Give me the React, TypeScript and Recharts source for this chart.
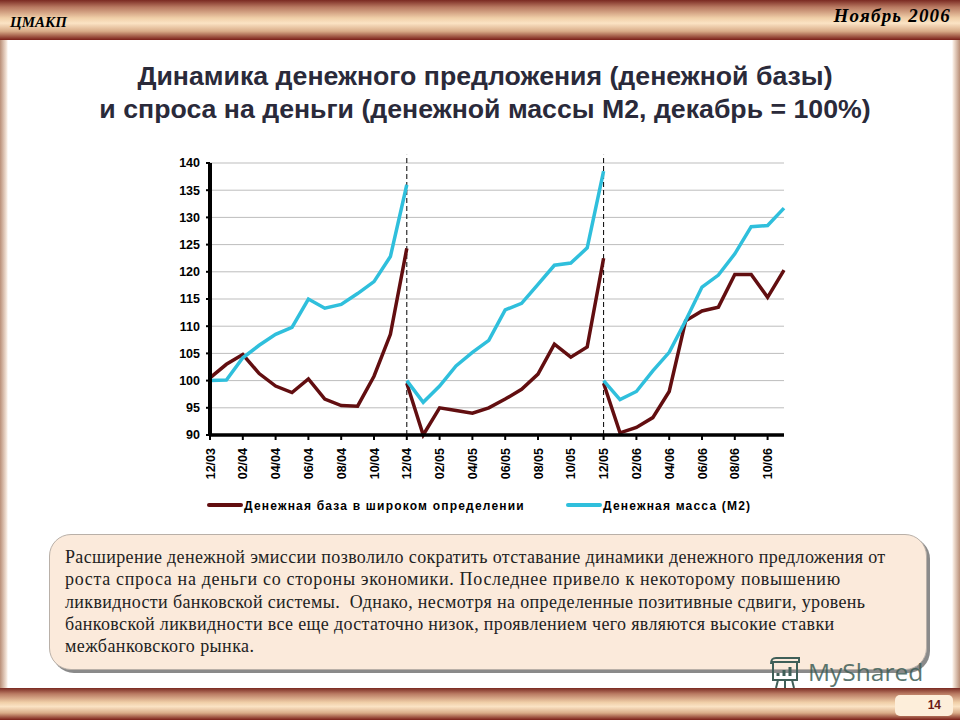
import React from "react";
import { LineChart, Line, XAxis, YAxis, CartesianGrid, ReferenceLine } from "recharts";

const months = ["12/03","01/04","02/04","03/04","04/04","05/04","06/04","07/04","08/04","09/04","10/04","11/04","12/04","01/05","02/05","03/05","04/05","05/05","06/05","07/05","08/05","09/05","10/05","11/05","12/05","01/06","02/06","03/06","04/06","05/06","06/06","07/06","08/06","09/06","10/06","11/06"];
const base2004 = [100.5,103,104.8,101.3,99,97.8,100.3,96.6,95.4,95.3,100.8,108.5,124.3];
const base2005 = [99.5,90,95,94.5,94,95,96.6,98.4,101.2,106.7,104.3,106.2,122.5];
const base2006 = [99.5,90.4,91.4,93.2,98,111,112.8,113.5,119.5,119.5,115.3,120.3];
const m2y2004 = [100,100.1,104.2,106.5,108.5,109.8,115,113.3,114,116,118.2,122.8,136];
const m2y2005 = [100,96,99,102.7,105.2,107.4,113,114.2,117.7,121.2,121.6,124.4,138.5];
const m2y2006 = [100,96.5,98,101.8,105.2,111,117.2,119.4,123.3,128.3,128.5,131.7];
const yTicks = [90,95,100,105,110,115,120,125,130,135,140];
const xTicks = months.filter((_, i) => i % 2 === 0);
const breaks = ["12/04","12/05"];
const legendBase = "Денежная база в широком определении";
const legendM2 = "Денежная масса (М2)";
const titleLines = ["Динамика денежного предложения (денежной базы)","и спроса на деньги (денежной массы М2, декабрь = 100%)"];
const noteLines = [
  "Расширение денежной эмиссии позволило сократить отставание динамики денежного предложения от",
  "роста спроса на деньги со стороны экономики. Последнее привело к некоторому повышению",
  "ликвидности банковской системы.  Однако, несмотря на определенные позитивные сдвиги, уровень",
  "банковской ликвидности все еще достаточно низок, проявлением чего являются высокие ставки",
  "межбанковского рынка."
];
const noteSpacing = [0.35, 0.68, 0.35, 0.35, 0.42];

const rows = months.map((month, i) => ({
  month,
  b1: base2004[i],
  b2: i >= 12 ? base2005[i - 12] : undefined,
  b3: i >= 24 ? base2006[i - 24] : undefined,
  m1: m2y2004[i],
  m2: i >= 12 ? m2y2005[i - 12] : undefined,
  m3: i >= 24 ? m2y2006[i - 24] : undefined,
}));

const DARK = "#620e10";
const CYAN = "#2fbfdc";
const bandBg = "linear-gradient(to bottom,#7a2a22 0%,#b97a62 18%,#f0cfa8 45%,#fbe3c4 58%,#d9ac88 78%,#7a1f18 100%)";
const abs = (left: number, top: number, width: number, height: number): React.CSSProperties => ({ position: "absolute", left, top, width, height });

const XTick = (props: any) => {
  const { x, y, payload } = props;
  return (
    <text transform={`translate(${x + 4.5},${y + 6}) rotate(-90)`} textAnchor="end" fontFamily="Liberation Sans" fontWeight={700} fontSize={12.5} fill="#000">
      {payload.value}
    </text>
  );
};

export default function App() {
  return (
    <div style={{ ...abs(0, 0, 960, 720), background: "#fff", overflow: "hidden", fontFamily: "Liberation Sans" }}>
      <div style={{ ...abs(0, 0, 960, 40), background: bandBg }} />
      <div style={{ ...abs(10, 14, 100, 18), fontFamily: "Liberation Serif", fontStyle: "italic", fontWeight: 700, fontSize: 15 }}>ЦМАКП</div>
      <div style={{ ...abs(750, 5, 201, 24), textAlign: "right", fontFamily: "Liberation Serif", fontStyle: "italic", fontWeight: 700, fontSize: 19, letterSpacing: 1.2 }}>Ноябрь 2006</div>
      <div style={{ ...abs(0, 40, 8, 648), background: "linear-gradient(to right,#b98f78,#f3e4d8 80%,#fff)" }} />
      <div style={{ ...abs(952, 40, 8, 648), background: "linear-gradient(to left,#b98f78,#f3e4d8 80%,#fff)" }} />
      {titleLines.map((t, i) => (
        <div key={i} style={{ ...abs(0, 60 + i * 33, 970, 32), textAlign: "center", fontWeight: 700, fontSize: 26.7, lineHeight: "32px", color: "#2a2a3a", whiteSpace: "nowrap" }}>{t}</div>
      ))}
      <div style={abs(0.5, 140, 960, 390)}>
        <LineChart width={960} height={390} data={rows} margin={{ top: 23, right: 177, bottom: 0, left: 179 }}>
          <CartesianGrid vertical={false} stroke="#bdbdbd" strokeWidth={1} />
          <XAxis dataKey="month" ticks={xTicks} interval={0} scale="point" padding={{ left: 0, right: 0 }} tick={<XTick />} tickSize={5} axisLine={{ stroke: "#000", strokeWidth: 3.5 }} tickLine={{ stroke: "#000", strokeWidth: 2 }} height={95} />
          <YAxis domain={[90, 140]} ticks={yTicks} interval={0} width={30} tick={{ fontFamily: "Liberation Sans", fontWeight: 700, fontSize: 12.5, fill: "#000" }} tickSize={4} tickMargin={6} axisLine={{ stroke: "#000", strokeWidth: 4 }} tickLine={{ stroke: "#000", strokeWidth: 2 }} />
          {breaks.map((b) => (
            <ReferenceLine key={b} segment={[{ x: b, y: 90 }, { x: b, y: 141.5 }]} ifOverflow="visible" stroke="#000" strokeWidth={1} strokeDasharray="5 3" />
          ))}
          {["b1","b2","b3"].map((k) => (
            <Line key={k} dataKey={k} stroke={DARK} strokeWidth={3.5} dot={false} isAnimationActive={false} connectNulls={false} />
          ))}
          {["m1","m2","m3"].map((k) => (
            <Line key={k} dataKey={k} stroke={CYAN} strokeWidth={3.5} dot={false} isAnimationActive={false} connectNulls={false} />
          ))}
        </LineChart>
      </div>
      <div style={{ ...abs(207, 503, 36, 4), background: DARK, borderRadius: 2 }} />
      <div style={{ ...abs(244, 499, 320, 16), fontWeight: 700, fontSize: 12, letterSpacing: 1.2, whiteSpace: "nowrap" }}>{legendBase}</div>
      <div style={{ ...abs(566, 503, 36, 4), background: CYAN, borderRadius: 2 }} />
      <div style={{ ...abs(603, 499, 200, 16), fontWeight: 700, fontSize: 12, letterSpacing: 1.2, whiteSpace: "nowrap" }}>{legendM2}</div>
      <div style={{ ...abs(49, 534, 876, 134), background: "#fbeadb", borderRadius: 22, border: "1px solid #b9b0a8", boxShadow: "3px 3px 0 #8a8a8a" }} />
      {noteLines.map((t, i) => (
        <div key={i} style={{ ...abs(65, 546 + i * 22.3, 870, 22), fontFamily: "Liberation Serif", fontSize: 18, lineHeight: "22px", letterSpacing: noteSpacing[i], color: "#222", whiteSpace: "pre" }}>{t}</div>
      ))}
      <div style={{ ...abs(0, 688, 960, 32), background: bandBg }} />
      <div style={{ ...abs(895, 695, 58, 21), background: "#fdeeda", borderRadius: 5, textAlign: "right", fontWeight: 700, fontSize: 12, color: "#6b1a14", lineHeight: "21px", boxSizing: "border-box", paddingRight: 12 }}>14</div>
      <svg style={abs(768, 656, 40, 34)} viewBox="0 0 40 34" fill="none" stroke="#3f5f58" strokeWidth={2}>
        <rect x={5} y={6} width={24} height={18} />
        <path d="M3 8 C3 2 6 2 8 2 L31 2 L31 7 M10 24 L8 32 M17 24 L17 32 M24 24 L26 32" />
        <path d="M10 20 L10 17 M16 20 L16 14 M22 20 L22 11" strokeWidth={3} />
      </svg>
      <div style={{ ...abs(808, 655, 130, 34), fontFamily: "Open Sans", fontSize: 24.5, lineHeight: "34px", color: "#3f5f58", opacity: 0.85, whiteSpace: "nowrap" }}>MyShared</div>
    </div>
  );
}
